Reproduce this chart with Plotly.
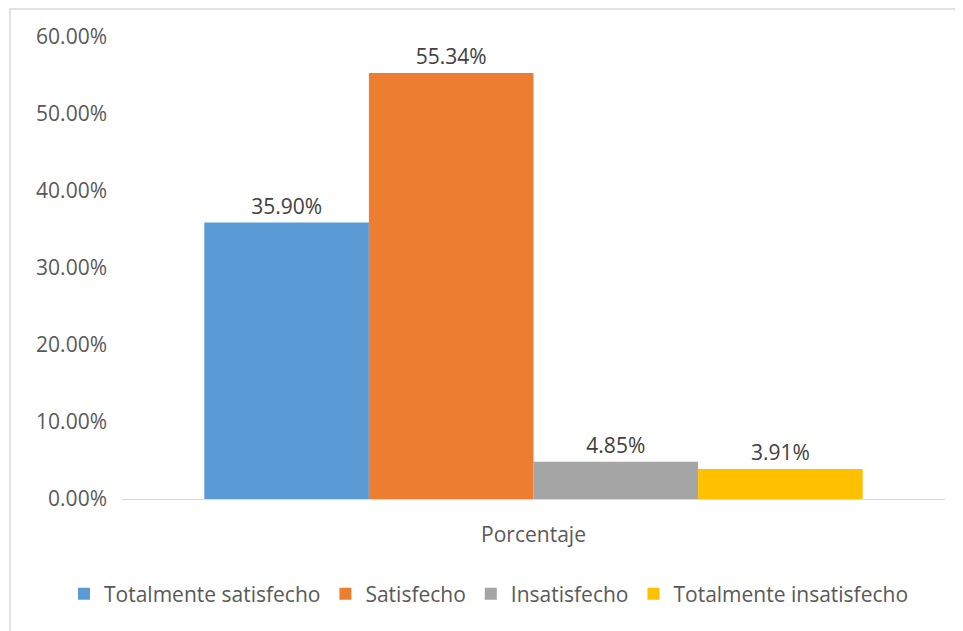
import plotly.graph_objects as go

categories = ["Porcentaje"]
series_names = ["Totalmente satisfecho", "Satisfecho", "Insatisfecho", "Totalmente insatisfecho"]
series_values = [0.3590, 0.5534, 0.0485, 0.0391]
colors = ["#5B9BD5", "#ED7D31", "#A5A5A5", "#FFC000"]
y_ticks = [0, 0.1, 0.2, 0.3, 0.4, 0.5, 0.6]

FONT = "Open Sans"
FS = 21
fig = go.Figure()
for name, v, c in zip(series_names, series_values, colors):
    fig.add_trace(go.Bar(
        x=categories, y=[v], name=name, marker=dict(color=c, line=dict(width=0)),
        text=[f"{v*100:.2f}%"], textposition="outside", cliponaxis=False,
        textfont=dict(size=FS, color="#404040", family=FONT),
    ))

# page is offset by 8px body margin
OFF = 8
W, H = 963 - OFF, 631 - OFF
L, R, T, B = 122 - OFF, 18, 37 - OFF, 132
pw, ph = W - L - R, H - T - B

def px(x):  # page x -> paper
    return (x - OFF - L) / pw

def py(y):  # page y -> paper
    return (H - B - (y - OFF)) / ph

fig.update_layout(
    width=W, height=H,
    margin=dict(l=L, r=R, t=T, b=B),
    paper_bgcolor="white", plot_bgcolor="white",
    barmode="group", bargap=0.2, bargroupgap=0,
    font=dict(family=FONT, size=FS, color="#595959"),
    showlegend=True,
    legend=dict(orientation="h", x=px(64), xanchor="left", y=py(594), yanchor="middle",
                font=dict(size=FS, color="#595959", family=FONT), itemwidth=30,
                traceorder="normal"),
    xaxis=dict(showline=True, linecolor="#D9D9D9", linewidth=1, showgrid=False,
               ticks="", ticklabelstandoff=17, tickfont=dict(size=FS, color="#595959")),
    yaxis=dict(range=[0, 0.6], tickvals=y_ticks, tickformat=".2%", showgrid=False,
               zeroline=False, showline=False, ticks="", ticklabelstandoff=14,
               tickfont=dict(size=FS, color="#595959")),
    shapes=[dict(type="rect", xref="paper", yref="paper",
                 x0=px(10), x1=px(990), y0=py(660), y1=py(OFF + 1),
                 line=dict(color="#D9D9D9", width=1.5), fillcolor="rgba(0,0,0,0)", layer="below")],
)

fig.write_html("out.html")
